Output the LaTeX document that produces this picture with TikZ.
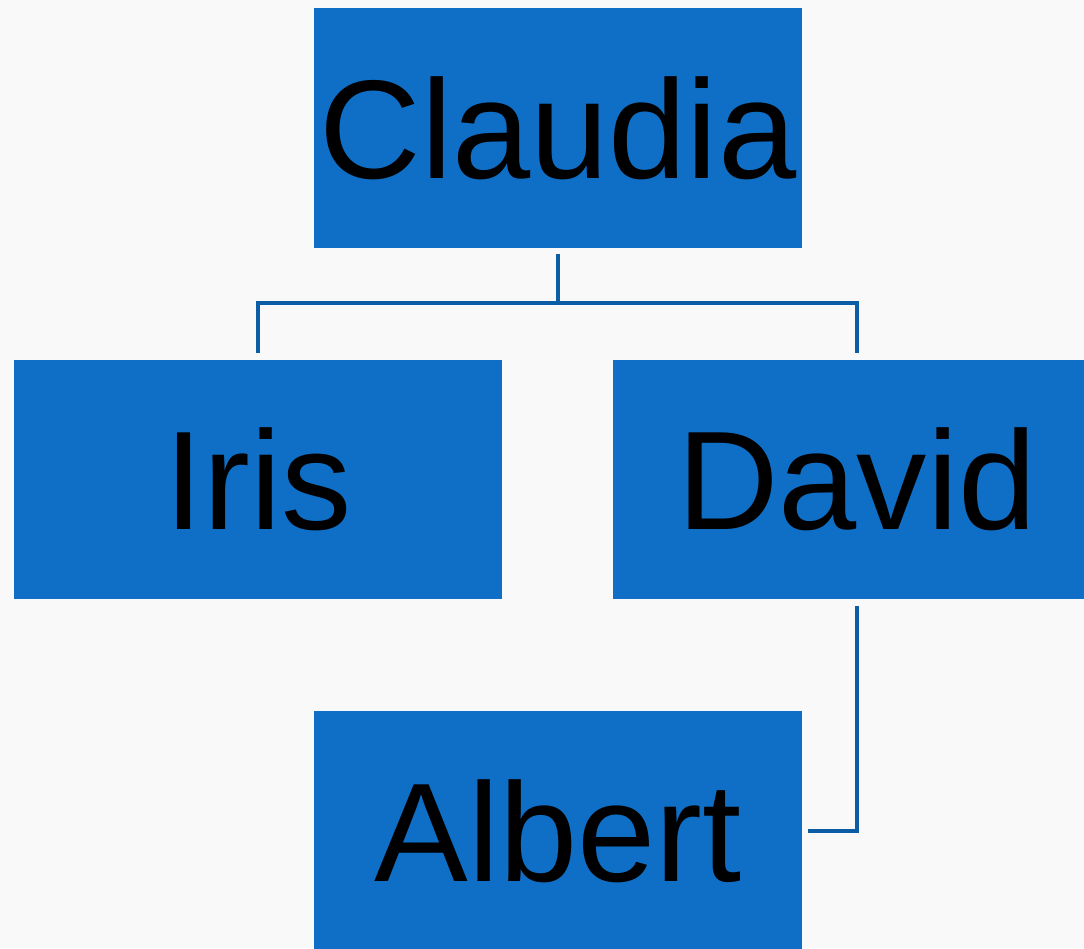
\documentclass[tikz,border=0pt]{standalone}
\usepackage{fontspec}
\setmainfont{Liberation Sans}
\definecolor{boxblue}{HTML}{0F6FC6}
\definecolor{lineblue}{HTML}{0C5CA6}
\definecolor{paper}{HTML}{F9F9F9}
\tikzset{
  person/.style={fill=boxblue, minimum width=9.76cm, minimum height=4.8cm,
    inner sep=0pt, font=\fontsize{80}{80}\selectfont},
  link/.style={lineblue, line width=2.8pt, shorten <=3.4pt, shorten >=3.4pt}
}
\begin{document}
\begin{tikzpicture}[x=0.02cm, y=-0.02cm]
\fill[paper] (0,0) rectangle (1084,948);
\useasboundingbox (0,0) rectangle (1084,948);

\node[person] (claudia) at (558,128) {Claudia};
\node[person] (iris) at (258,479.5) {Iris};
\node[person] (david) at (857,479.5) {David};
\node[person] (albert) at (558,831) {Albert};

\coordinate (fork) at (558,303);
\draw[link, shorten >=0pt] (claudia.south) -- (fork);
\draw[link, line cap=butt] (iris.north) |- (fork) -| (david.north);
\draw[link] (david.south) |- (albert.east);
\end{tikzpicture}
\end{document}
